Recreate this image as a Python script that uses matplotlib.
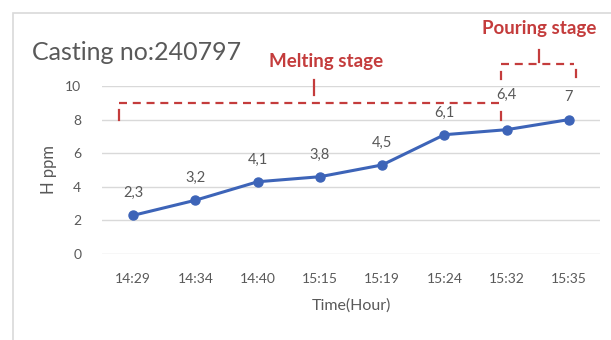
import matplotlib
matplotlib.use("Agg")
import matplotlib.pyplot as plt
from matplotlib.patches import Rectangle

plt.rcParams['font.family'] = ['Lato', 'DejaVu Sans']

times = ['14:29', '14:34', '14:40', '15:15', '15:19', '15:24', '15:32', '15:35']
h_ppm = [2.3, 3.2, 4.3, 4.6, 5.3, 7.1, 7.4, 8.0]
point_labels = ['2,3', '3,2', '4,1', '3,8', '4,5', '6,1', '6,4', '7']
yticks = [0, 2, 4, 6, 8, 10]

grey = '#595959'
red = '#c43c3c'
blue = '#3d64b8'

fig = plt.figure(figsize=(6.11, 3.4), dpi=100)
ax = fig.add_axes([102/611, 1-254/340, 498/611, 168/340])

# light chart frame
fig.patches.append(Rectangle((13/611, -0.1), 1.0, 1.1 - 13/340, transform=fig.transFigure,
                             fill=False, edgecolor='#d9d9d9', lw=1.2))

x = list(range(len(times)))
ax.plot(x, h_ppm, color=blue, lw=2.2, marker='o', ms=6.5, zorder=3)

for i, (v, lab) in enumerate(zip(h_ppm, point_labels)):
    off = 25 if lab == '6,4' else 16
    ax.annotate(lab, (i, v), xytext=(0, off), textcoords='offset points',
                ha='center', va='center', fontsize=10.5, color=grey)

ax.set_xlim(-0.5, 7.5)
ax.set_ylim(0, 10)
ax.set_xticks(x)
ax.set_xticklabels(times)
ax.set_yticks(yticks)
ax.tick_params(length=0, labelsize=10, labelcolor=grey)
ax.tick_params(axis='x', pad=14)
ax.tick_params(axis='y', pad=15)
for s in ax.spines.values():
    s.set_visible(False)
ax.grid(axis='y', color='#d9d9d9', lw=1)
ax.set_axisbelow(True)
ax.set_xlabel('Time(Hour)', fontsize=11.5, color=grey, labelpad=9)
ax.set_ylabel('H ppm', fontsize=12, color=grey, labelpad=6)

fig.text(32/611, 1-52/340, 'Casting no:240797', fontsize=18, color=grey, va='center', ha='left')

# stage brackets
dash = dict(color=red, lw=1.6, dashes=(3.6, 2.6), clip_on=False)
solid = dict(color=red, lw=1.6, clip_on=False)
ax.plot([-0.22, 5.91], [8.99, 8.99], **dash)
ax.plot([-0.22, -0.22], [8.6, 7.98], **solid)
ax.plot([5.91, 5.91], [8.45, 7.98], **solid)
ax.plot([2.9, 2.9], [9.46, 10.36], **solid)
ax.text(3.1, 11.43, 'Melting stage', color=red, fontsize=13.5, fontweight='bold',
        ha='center', va='center', clip_on=False)

ax.plot([5.91, 7.08], [11.31, 11.31], **dash)
ax.plot([5.91, 5.91], [10.83, 10.42], **solid)
ax.plot([7.11, 7.11], [10.95, 10.54], **solid)
ax.plot([6.52, 6.52], [12.14, 11.43], **solid)
ax.text(6.53, 13.4, 'Pouring stage', color=red, fontsize=13.5, fontweight='bold',
        ha='center', va='center', clip_on=False)

fig.savefig('out.png', dpi=100)
